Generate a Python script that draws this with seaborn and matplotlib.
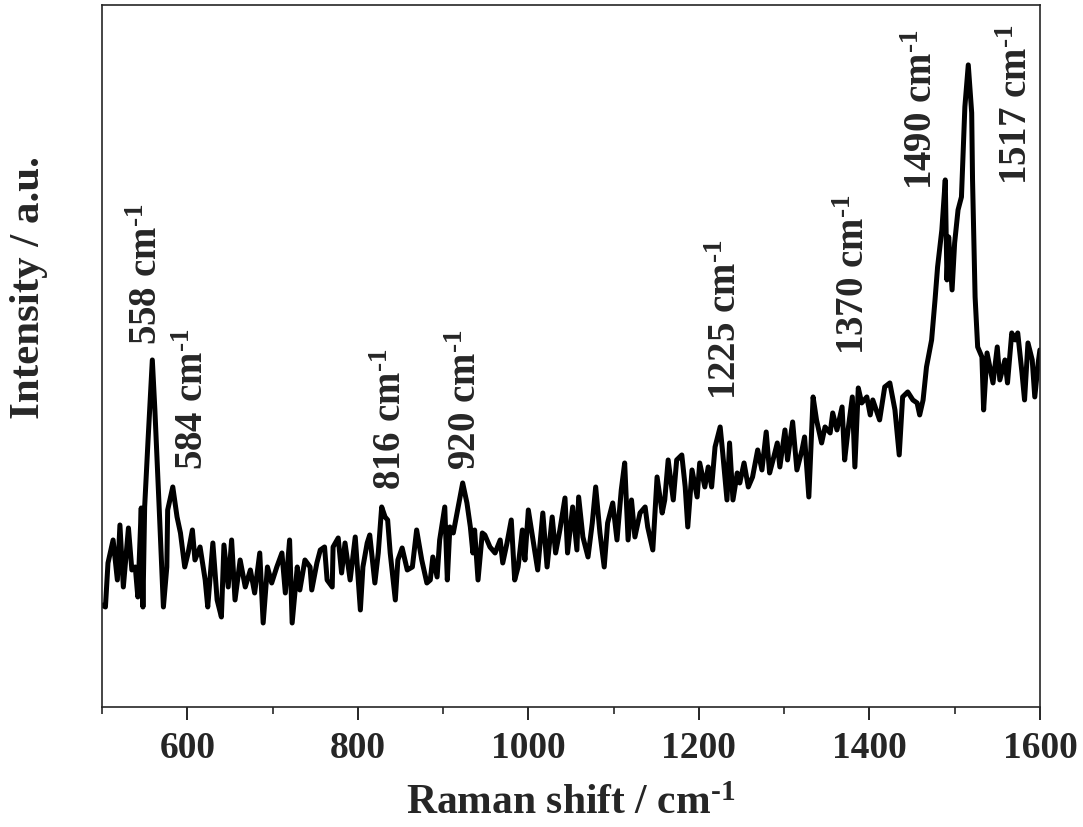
import matplotlib
matplotlib.use('Agg')
import matplotlib.pyplot as plt
import seaborn as sns
import numpy as np
import pandas as pd

# Raman spectrum (x in cm-1, intensity in arbitrary units)
raman_shift = [
    500, 504, 507, 513, 518, 521, 525, 531, 535, 539, 542, 546, 548, 550, 554,
    559, 562, 567, 572, 576, 577, 583, 588, 592, 597, 601, 606, 609, 615, 621,
    624, 630, 635, 640, 643, 648, 652, 656, 662, 668, 674, 679, 685, 689, 694,
    699, 705, 711, 715, 720, 723, 729, 732, 738, 744, 746, 752, 756, 761, 764,
    770, 771, 777, 781, 785, 791, 797, 803, 806, 811, 814, 820, 824, 828, 832,
    835, 838, 844, 847, 852, 858, 864, 869, 875, 881, 885, 888, 893, 896, 902,
    905, 908, 912, 917, 923, 928, 932, 935, 937, 941, 946, 949, 955, 961, 967,
    970, 975, 980, 984, 988, 993, 996, 1000, 1005, 1011, 1017, 1022, 1028, 1032, 1037,
    1043, 1046, 1052, 1057, 1059, 1064, 1070, 1075, 1079, 1084, 1089, 1093, 1099, 1104, 1109,
    1113, 1117, 1121, 1125, 1131, 1137, 1140, 1146, 1151, 1157, 1160, 1164, 1170, 1174, 1180,
    1184, 1187, 1192, 1198, 1201, 1207, 1211, 1215, 1219, 1225, 1228, 1233, 1236, 1240, 1245,
    1248, 1253, 1258, 1263, 1269, 1274, 1279, 1283, 1287, 1292, 1295, 1301, 1304, 1310, 1315,
    1321, 1324, 1329, 1334, 1338, 1344, 1348, 1354, 1357, 1362, 1368, 1371, 1375, 1380, 1383,
    1387, 1391, 1397, 1401, 1404, 1412, 1418, 1424, 1430, 1435, 1439, 1445, 1451, 1456, 1459,
    1463, 1467, 1473, 1477, 1480, 1485, 1489, 1491, 1493, 1497, 1500, 1504, 1508, 1512, 1516,
    1520, 1521, 1524, 1527, 1532, 1534, 1538, 1542, 1545, 1550, 1553, 1559, 1562, 1567, 1571,
    1574, 1579, 1582, 1586, 1591, 1594, 1598, 1600,
]
intensity = [
    102, 100, 144, 167, 127, 182, 120, 179, 137, 140, 110, 199, 100, 200, 267,
    347, 297, 200, 100, 140, 197, 220, 190, 174, 140, 154, 177, 147, 160, 127,
    100, 164, 107, 90, 162, 120, 167, 107, 147, 120, 137, 114, 154, 84, 140,
    124, 140, 154, 114, 167, 84, 140, 117, 147, 140, 117, 144, 157, 160, 127,
    120, 160, 169, 134, 164, 127, 170, 97, 140, 164, 172, 124, 154, 200, 190,
    187, 154, 107, 147, 159, 137, 140, 177, 147, 124, 127, 150, 130, 167, 200,
    127, 180, 174, 197, 224, 204, 180, 154, 177, 127, 174, 172, 160, 154, 167,
    144, 164, 187, 127, 140, 177, 147, 197, 170, 137, 194, 140, 190, 154, 177,
    209, 154, 200, 157, 210, 170, 150, 184, 220, 174, 140, 184, 204, 167, 217,
    244, 167, 207, 170, 194, 200, 180, 157, 230, 194, 207, 247, 207, 247, 252,
    220, 180, 237, 210, 244, 220, 240, 220, 260, 280, 254, 207, 264, 207, 234,
    224, 244, 220, 230, 257, 237, 275, 234, 247, 264, 240, 277, 247, 285, 237,
    257, 270, 210, 310, 287, 264, 280, 274, 294, 277, 300, 247, 277, 310, 240,
    319, 304, 310, 292, 307, 287, 320, 324, 297, 252, 310, 315, 307, 304, 292,
    307, 340, 367, 407, 440, 477, 527, 427, 470, 417, 464, 497, 510, 600, 642,
    594, 527, 410, 360, 350, 297, 354, 337, 324, 360, 327, 347, 324, 374, 367,
    374, 334, 307, 364, 347, 310, 344, 357,
]

# peak annotations
peak_labels = ['558', '584', '816', '920', '1225', '1370', '1490', '1517']
label_x = [553, 607, 839, 927, 1233, 1383, 1462, 1574]
label_y = [362, 237, 217, 237, 307, 352, 517, 522]

df = pd.DataFrame({'shift': raman_shift, 'intensity': intensity})

sns.set_style('ticks')
plt.rcParams['font.family'] = ['Liberation Serif', 'DejaVu Serif']
plt.rcParams['font.weight'] = 'bold'
plt.rcParams['mathtext.fontset'] = 'custom'
plt.rcParams['mathtext.rm'] = 'Liberation Serif:bold'
plt.rcParams['mathtext.bf'] = 'Liberation Serif:bold'
plt.rcParams['mathtext.it'] = 'Liberation Serif:bold'

fig = plt.figure(figsize=(10.83, 8.27), dpi=100)
ax = fig.add_axes([0.0942, 0.1451, 0.866, 0.849])

sns.lineplot(data=df, x='shift', y='intensity', color='black', linewidth=3.6,
             estimator=None, ax=ax)

sup = r'$^{\text{-}1}$'
for lab, lx, ly in zip(peak_labels, label_x, label_y):
    ax.text(lx, ly, lab + ' cm' + sup, rotation=90, ha='center', va='bottom',
            fontsize=28, fontweight='bold')

ax.set_xlim(500, 1600)
ax.set_ylim(0, 702)
ax.set_xticks([600, 800, 1000, 1200, 1400, 1600])
ax.set_xticks(np.arange(500, 1601, 100), minor=True)
ax.set_yticks([])
ax.tick_params(axis='x', which='major', direction='out', length=9, width=1.4,
               labelsize=27, pad=8)
ax.tick_params(axis='x', which='minor', direction='out', length=5, width=1.2)
for lbl in ax.get_xticklabels():
    lbl.set_fontweight('bold')
for sp in ax.spines.values():
    sp.set_linewidth(1.2)
    sp.set_visible(True)

ax.set_xlabel('Raman shift / cm' + sup, fontsize=30, fontweight='bold', labelpad=14)
ax.set_ylabel('Intensity / a.u.', fontsize=31, fontweight='bold')
ax.yaxis.set_label_coords(-0.058, 0.597)

plt.savefig('out.png', dpi=100)
